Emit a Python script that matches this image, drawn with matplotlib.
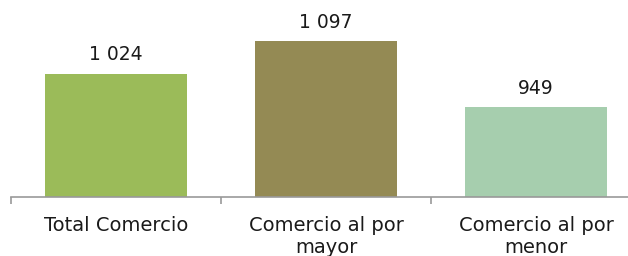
import matplotlib
matplotlib.use("Agg")
import matplotlib.pyplot as plt
from matplotlib.ticker import FixedLocator

categories = ["Total Comercio", "Comercio al por\nmayor", "Comercio al por\nmenor"]
values = [1024, 1097, 949]
labels = ["1 024", "1 097", "949"]
colors = ["#9BBB59", "#948A54", "#A6CEAE"]

W, H = 628, 256
fig = plt.figure(figsize=(W / 100, H / 100), dpi=100)
ax_left = 11 / W
ax_width = 630 / W
ax_bottom = (H - 197) / H
ax_height = 187 / H
ax = fig.add_axes([ax_left, ax_bottom, ax_width, ax_height])

x = list(range(len(categories)))
ax.bar(x, values, width=0.68, color=colors, zorder=2)
ax.set_xlim(-0.5, 2.5)
ax.set_ylim(748, 1167)

for xi, v, lab in zip(x, values, labels):
    ax.annotate(lab, (xi, v), xytext=(0, 7), textcoords="offset points",
                ha="center", va="bottom", fontsize=13.5, color="#1a1a1a")

for s in ["top", "right", "left"]:
    ax.spines[s].set_visible(False)
ax.spines["bottom"].set_color("#999999")
ax.spines["bottom"].set_linewidth(1.2)
ax.set_yticks([])

ax.set_xticks(x)
ax.set_xticklabels(categories, fontsize=14, color="#1a1a1a", linespacing=1.15)
ax.tick_params(axis="x", which="major", length=0, pad=14)
ax.xaxis.set_minor_locator(FixedLocator([-0.5, 0.5, 1.5, 2.5]))
ax.tick_params(axis="x", which="minor", length=5, color="#999999", width=1.2)

fig.savefig("out.png", dpi=100)
